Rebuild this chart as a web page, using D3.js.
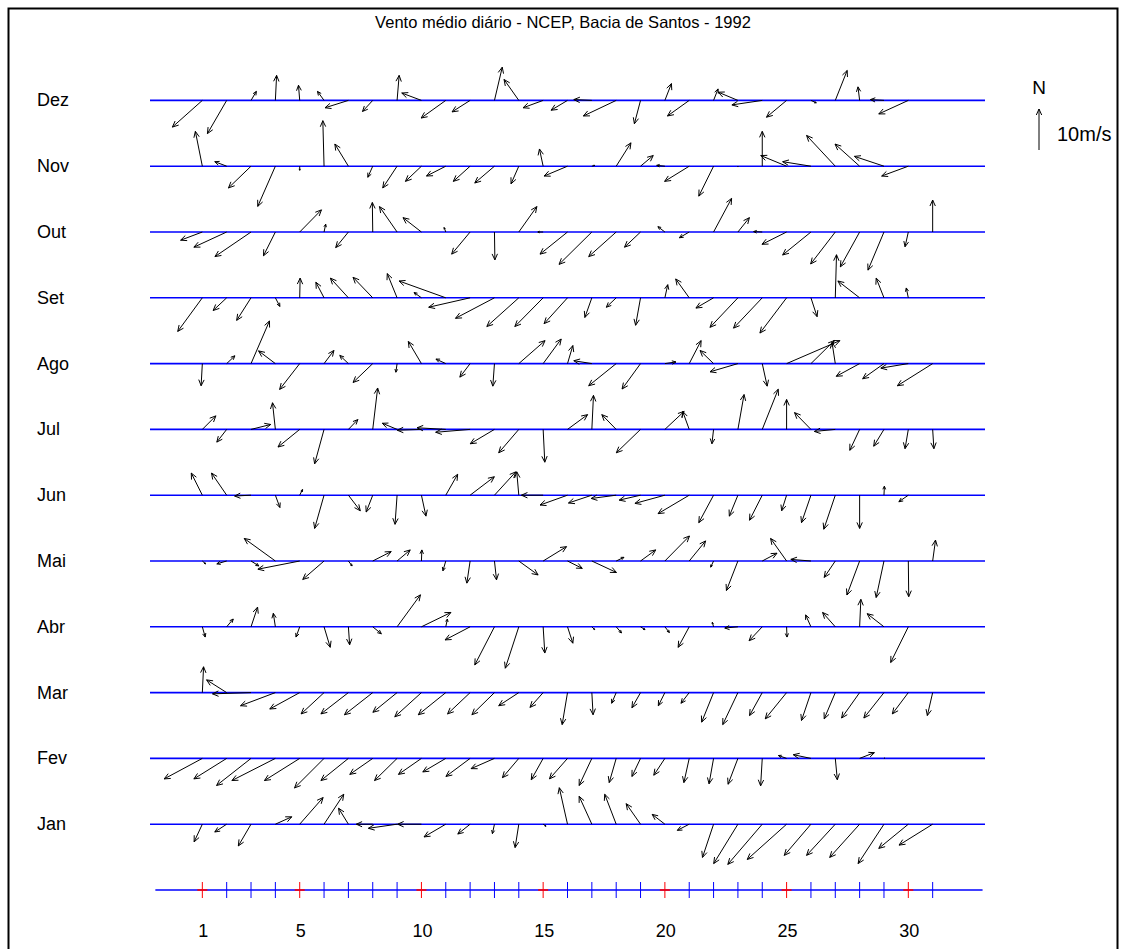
<!DOCTYPE html>
<html>
<head>
<meta charset="utf-8">
<script src="https://cdn.jsdelivr.net/npm/d3@7"></script>
<style>
  body { margin: 0; background: #fff; }
  svg text { font-family: "Liberation Sans", Arial, sans-serif; fill: #000; }
</style>
</head>
<body>
<div id="chart"></div>
<script>
// daily mean wind (u, v) in m/s, one array per month, day 1 first
const jan = [[-2.0,-4.3],[-2.9,-1.9],[-3.1,-5.3],[4.0,1.8],[5.7,6.5],[4.8,7.3],[-2.4,3.9],[-4.0,0.0],[-7.0,-1.0],[-5.8,0.0],[-5.3,-3.1],[-3.0,-2.4],[-0.5,-2.3],[-0.9,-5.7],[0.7,-0.5],[-2.0,8.9],[-3.1,6.8],[-2.8,7.3],[-3.5,5.0],[-3.1,2.4],[-2.9,-1.5],[-2.7,-8.1],[-5.9,-9.6],[-8.4,-9.8],[-9.6,-8.6],[-6.5,-7.6],[-7.0,-7.6],[-7.3,-8.1],[-6.3,-9.6],[-7.2,-5.9],[-8.2,-5.1]]
const fev = [[-9.3,-5.0],[-8.0,-5.0],[-8.4,-6.6],[-10.6,-5.4],[-8.6,-5.4],[-7.2,-7.2],[-6.7,-5.4],[-5.6,-3.9],[-5.5,-5.4],[-5.6,-3.9],[-5.6,-3.3],[-5.9,-4.4],[-5.7,-2.5],[-4.0,-4.7],[-2.9,-5.2],[-4.4,-5.0],[-3.1,-6.6],[-1.7,-5.9],[-2.1,-4.4],[-2.7,-4.1],[-1.3,-5.9],[-1.1,-6.2],[-2.4,-6.3],[-0.4,-6.7],[-2.0,0.7],[-4.3,0.9],[0.5,-5.2],[3.6,1.4],[0.2,0.1]]
const mar = [[0.3,6.3],[-4.9,3.1],[-9.4,-0.3],[-8.5,-3.2],[-7.3,-4.0],[-5.6,-5.2],[-6.7,-5.2],[-6.9,-5.4],[-5.9,-4.8],[-6.5,-5.9],[-6.7,-5.4],[-5.5,-5.2],[-5.5,-5.4],[-4.9,-3.2],[-3.2,-3.6],[-1.3,-7.8],[0.3,-5.4],[-1.1,-2.6],[-2.1,-3.7],[-1.6,-3.2],[-2.0,-2.6],[-2.9,-7.2],[-3.7,-7.8],[-3.1,-5.6],[-5.2,-6.4],[-2.3,-6.8],[-2.7,-6.4],[-4.4,-6.2],[-4.9,-6.2],[-3.9,-5.2],[-1.3,-5.6]]
const abr = [[0.7,-2.5],[1.6,1.9],[1.6,4.8],[-0.5,3.3],[-0.9,-2.5],[1.5,-5.0],[0.3,-4.4],[2.1,-1.7],[5.7,7.8],[7.2,3.5],[0.4,1.9],[-6.1,-3.2],[-4.8,-9.3],[-3.3,-10.1],[0.4,-6.4],[1.3,-4.0],[0.7,-0.7],[1.3,-1.5],[1.1,-0.7],[1.1,-1.4],[-2.7,-5.0],[-0.3,1.1],[-3.2,-0.3],[-3.2,-3.4],[0.1,-2.5],[-1.3,2.9],[-3.1,3.5],[0.3,6.7],[-4.1,3.2],[-4.3,-8.7]]
const mai = [[0.8,-0.7],[-2.4,-0.7],[1.9,-1.2],[-7.6,5.5],[-10.2,-2.0],[-5.2,-4.5],[0.9,-1.2],[4.5,2.3],[3.2,2.7],[0.1,2.7],[-0.7,-2.4],[-0.8,-5.4],[0.5,-4.6],[4.7,-3.4],[5.7,3.5],[3.6,-1.8],[6.0,-2.8],[1.9,0.9],[3.7,2.7],[6.0,6.1],[4.0,4.9],[-0.7,-1.5],[-2.8,-7.2],[3.6,1.9],[-3.9,5.5],[-4.9,0.4],[-2.7,-4.0],[-3.1,-8.3],[-1.9,-8.9],[0.1,-8.7],[0.7,5.1]]
const jun = [[-2.7,5.4],[-3.7,5.4],[-4.0,-0.2],[1.1,-3.0],[0.7,1.4],[-2.3,-8.1],[2.9,-3.8],[-1.6,-4.1],[-0.5,-7.1],[1.1,-5.1],[2.9,5.1],[5.9,4.5],[5.2,5.7],[-0.5,5.7],[-5.3,0.0],[-6.7,-2.4],[-5.7,-1.9],[-6.1,-0.8],[-5.2,-1.2],[-7.3,-2.0],[-7.6,-4.5],[-3.6,-6.7],[-2.1,-5.1],[-3.1,-6.1],[-1.2,-3.8],[-2.3,-6.7],[-2.8,-8.3],[0.0,-8.1],[0.1,2.2],[-2.3,-1.6]]
const jul = [[3.3,3.3],[-2.4,-3.1],[4.8,1.2],[-0.7,6.5],[-5.3,-4.3],[-2.3,-8.4],[2.3,2.4],[1.2,10.1],[-3.6,1.5],[-5.9,-0.2],[-7.0,0.4],[-8.4,-0.7],[-5.9,-3.5],[-4.9,-5.7],[0.4,-8.0],[4.9,3.6],[0.4,8.3],[-3.5,3.6],[-5.9,-5.7],[4.7,4.4],[-1.6,4.4],[-0.4,-3.5],[1.5,8.5],[3.9,9.8],[0.0,7.3],[-4.0,4.1],[-5.1,-0.5],[-2.4,-5.1],[-2.5,-4.1],[-0.8,-4.7],[0.3,-4.7]]
const ago = [[-0.3,-5.4],[2.0,1.9],[4.5,10.4],[-4.1,3.1],[-4.9,-6.3],[2.4,3.2],[-2.1,2.0],[-4.8,-4.6],[-0.3,-2.1],[-3.2,5.4],[-2.4,1.1],[-2.5,-3.3],[-0.4,-5.5],[6.4,5.6],[4.4,6.0],[1.3,4.4],[-4.4,0.7],[-6.7,-5.4],[-4.5,-6.2],[2.7,0.4],[2.9,5.6],[-3.3,3.2],[-6.8,-2.0],[1.2,-5.5],[13.0,5.6],[5.7,5.6],[-0.8,5.2],[-5.7,-3.1],[-5.2,-3.7],[-6.7,-1.1],[-8.6,-5.4]]
const set = [[-6.0,-8.2],[-3.3,-3.1],[-3.5,-5.5],[1.1,-2.1],[0.1,4.8],[-2.0,3.8],[-4.4,4.8],[-4.8,5.0],[-2.4,5.9],[-1.8,1.3],[-11.4,4.1],[-10.1,-2.3],[-9.5,-5.0],[-7.8,-7.0],[-6.9,-7.0],[-5.7,-6.3],[-1.7,-4.8],[-2.4,-2.3],[-1.2,-6.7],[0.7,3.2],[-3.3,4.6],[-4.3,-2.5],[-6.8,-7.2],[-7.0,-7.4],[-6.5,-8.6],[1.5,-4.6],[0.3,10.5],[-5.3,4.1],[-1.9,4.8],[-0.5,2.4]]
const out = [[-5.3,-2.0],[-8.0,-3.7],[-8.8,-6.0],[-2.9,-5.8],[5.3,5.4],[0.4,1.9],[-3.1,-3.8],[-0.1,7.2],[-4.3,6.2],[-4.5,3.5],[-0.4,1.1],[-4.5,-5.4],[0.1,-6.8],[4.4,6.2],[-1.3,0.0],[-6.7,-5.4],[-8.0,-7.9],[-6.7,-6.0],[-3.9,-3.7],[-1.7,1.3],[-2.4,-1.4],[4.4,8.2],[2.8,3.5],[-2.1,0.1],[-6.0,-3.0],[-6.9,-5.6],[-6.0,-7.8],[-4.7,-8.5],[-3.9,-9.3],[-0.8,-3.6],[0.0,7.8]]
const nov = [[-1.7,8.5],[-2.9,1.1],[-5.5,-5.3],[-4.3,-9.8],[0.0,-1.0],[-0.3,11.1],[-3.3,5.4],[-1.2,-2.7],[-3.5,-5.3],[-3.9,-3.7],[-4.7,-2.4],[-4.1,-3.7],[-4.8,-4.1],[-1.9,-4.3],[-0.9,4.2],[-5.7,-2.4],[0.7,0.2],[3.6,5.7],[3.1,2.6],[-2.0,0.2],[-6.0,-3.7],[-3.6,-7.3],[0.0,-0.2],[0.0,8.5],[-6.3,2.6],[-6.9,1.1],[-7.0,7.5],[-6.0,5.4],[-7.2,2.4],[-6.5,-2.4]]
const dez = [[-7.3,-6.5],[-4.7,-8.1],[1.3,2.2],[0.3,6.1],[-0.3,3.7],[-1.6,2.2],[-5.7,-1.8],[-2.5,-2.7],[0.5,6.1],[-4.8,1.8],[-6.0,-4.3],[-4.4,-2.8],[1.9,8.1],[-3.6,5.1],[-4.9,-1.8],[-4.0,-2.4],[-4.4,0.2],[-8.0,-3.8],[-1.5,-5.7],[1.6,4.1],[-5.3,-3.8],[1.1,2.8],[-4.8,2.0],[-7.4,-1.1],[-4.9,-4.1],[1.3,-0.6],[2.9,7.3],[-0.4,3.3],[-3.3,0.2],[-7.2,-3.3]]

const monthLabels = ["Jan","Fev","Mar","Abr","Mai","Jun","Jul","Ago","Set","Out","Nov","Dez"]
const monthData = [jan, fev, mar, abr, mai, jun, jul, ago, set, out, nov, dez]
const axisDays = d3.range(1, 32)
const redDays = [1, 5, 10, 15, 20, 25, 30]
const tickLabels = [1, 5, 10, 15, 20, 25, 30]
const legendSpeed = 10

const width = 1122, height = 949

const svg = d3.select("#chart").append("svg")
    .attr("width", width)
    .attr("height", height)
    .attr("viewBox", [0, 0, width, height])

svg.append("rect")
    .attr("x", 8.5).attr("y", 8.5)
    .attr("width", 1109).attr("height", 980)
    .attr("fill", "#fff")
    .attr("stroke", "#000")
    .attr("stroke-width", 2)

// scales: day -> x, row (0 = day axis, 1 = Jan ... 12 = Dez) -> y, m/s -> px
const x = d3.scaleLinear().domain([-1.15, 33.15]).range([150, 985])
const y = d3.scaleLinear().domain([0, 12]).range([890, 100.4])
const speed = d3.scaleLinear().domain([0, 10]).range([0, 41])

function arrowPath(x0, y0, x1, y1){
    const dx = x1 - x0, dy = y1 - y0, len = Math.hypot(dx, dy)
    if (len < 0.6) return ""
    const h = Math.min(6, len * 0.35), w = h * 0.45
    const ux = dx / len, uy = dy / len
    const bx = x1 - ux * h, by = y1 - uy * h
    return `M${x0},${y0}L${x1},${y1}M${bx - uy * w},${by + ux * w}L${x1},${y1}L${bx + uy * w},${by - ux * w}`
}

svg.append("text")
    .attr("x", 563).attr("y", 28)
    .attr("text-anchor", "middle")
    .style("font-size", "16.5px")
    .text("Vento médio diário - NCEP, Bacia de Santos - 1992")

const rows = svg.selectAll("g.month")
    .data(monthData)
    .join("g")
    .attr("class", "month")
    .attr("transform", (d, i) => `translate(0,${y(i + 1)})`)

rows.append("line")
    .attr("x1", x.range()[0]).attr("x2", x.range()[1])
    .attr("stroke", "#0000ff")
    .attr("stroke-width", 1.6)

rows.append("text")
    .attr("x", 37).attr("y", 6)
    .style("font-size", "18px")
    .text((d, i) => monthLabels[i])

rows.selectAll("path")
    .data(d => d.map((uv, j) => ({day: j + 1, u: uv[0], v: uv[1]})))
    .join("path")
    .attr("fill", "none")
    .attr("stroke", "#000")
    .attr("stroke-width", 1)
    .attr("d", d => arrowPath(x(d.day), 0, x(d.day) + speed(d.u), -speed(d.v)))

// day axis
const axisG = svg.append("g").attr("transform", `translate(0,${y(0)})`)
axisG.append("line")
    .attr("x1", x(-0.93)).attr("x2", x(33.05))
    .attr("stroke", "#0000ff").attr("stroke-width", 1.6)

axisG.selectAll("line.tick")
    .data(axisDays.filter(d => !redDays.includes(d)))
    .join("line")
    .attr("class", "tick")
    .attr("x1", d => x(d)).attr("x2", d => x(d))
    .attr("y1", -8).attr("y2", 8)
    .attr("stroke", "#0000ff")

const redG = axisG.selectAll("g.red")
    .data(redDays)
    .join("g")
    .attr("class", "red")
    .attr("transform", d => `translate(${x(d)},0)`)
redG.append("line").attr("y1", -8).attr("y2", 8).attr("stroke", "#ff0000")
redG.append("line").attr("x1", -5).attr("x2", 5).attr("stroke", "#ff0000").attr("stroke-width", 1.6)

axisG.selectAll("text")
    .data(tickLabels)
    .join("text")
    .attr("x", d => x(d) + 1).attr("y", 47)
    .attr("text-anchor", "middle")
    .style("font-size", "18px")
    .text(d => d)

// legend
const legend = svg.append("g").attr("transform", "translate(1039,150)")
legend.append("text")
    .attr("x", 0).attr("y", -56)
    .attr("text-anchor", "middle")
    .style("font-size", "19px")
    .text("N")
legend.append("path")
    .attr("fill", "none").attr("stroke", "#000")
    .attr("d", arrowPath(0, 0, 0, -speed(legendSpeed)))
legend.append("text")
    .attr("x", 18).attr("y", -9)
    .style("font-size", "20px")
    .text(legendSpeed + "m/s")
</script>
</body>
</html>
